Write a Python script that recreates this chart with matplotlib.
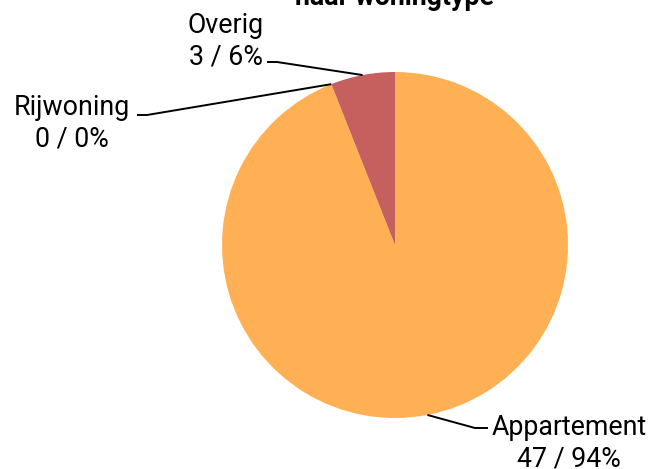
import matplotlib
matplotlib.use("Agg")
import matplotlib.pyplot as plt
import numpy as np

plt.rcParams['font.family'] = ['Roboto', 'DejaVu Sans']

categories = ["Appartement", "Rijwoning", "Overig"]
counts = [47, 0, 3]
percents = [94, 0, 6]
colors = ["#FFB054", "#FFB054", "#C5605E"]
title = "naar woningtype"

W, H = 652, 469
fig = plt.figure(figsize=(W / 100, H / 100), dpi=100)
ax = fig.add_axes([0, 0, 1, 1])
ax.set_xlim(0, W)
ax.set_ylim(0, H)
ax.set_aspect('equal')
ax.axis('off')

cx, cy, r = 395, H - 245, 173
wedges, _ = ax.pie(counts, colors=colors, startangle=90, counterclock=False,
                   center=(cx, cy), radius=r, frame=True,
                   wedgeprops=dict(linewidth=0))
ax.set_xlim(0, W)
ax.set_ylim(0, H)
ax.axis('off')

# label layout: (elbow x, elbow y, end x, text center x, first baseline y)
layout = {
    "Appartement": (475, 428, 488, 569, 435),
    "Rijwoning": (147, 115, 137, 72, 115),
    "Overig": (277, 62, 267, 226, 33),
}
fs = 19.3
for w, cat, n, p in zip(wedges, categories, counts, percents):
    ang = (w.theta1 + w.theta2) / 2
    ex = cx + r * np.cos(np.radians(ang))
    ey = cy + r * np.sin(np.radians(ang))
    bx, by, tx, tcx, tby = layout[cat]
    ax.plot([ex, bx, tx], [ey, H - by, H - by], color='black', lw=1.4,
            solid_capstyle='butt')
    ax.text(tcx, H - tby, cat, ha='center', va='baseline', fontsize=fs)
    ax.text(tcx, H - tby - 31, f"{n} / {p}%", ha='center', va='baseline', fontsize=fs)

fig.text(395 / W, 1 - 5 / H, title, ha='center', va='baseline',
         fontsize=fs, fontweight='bold')

fig.savefig("out.png", dpi=100)
